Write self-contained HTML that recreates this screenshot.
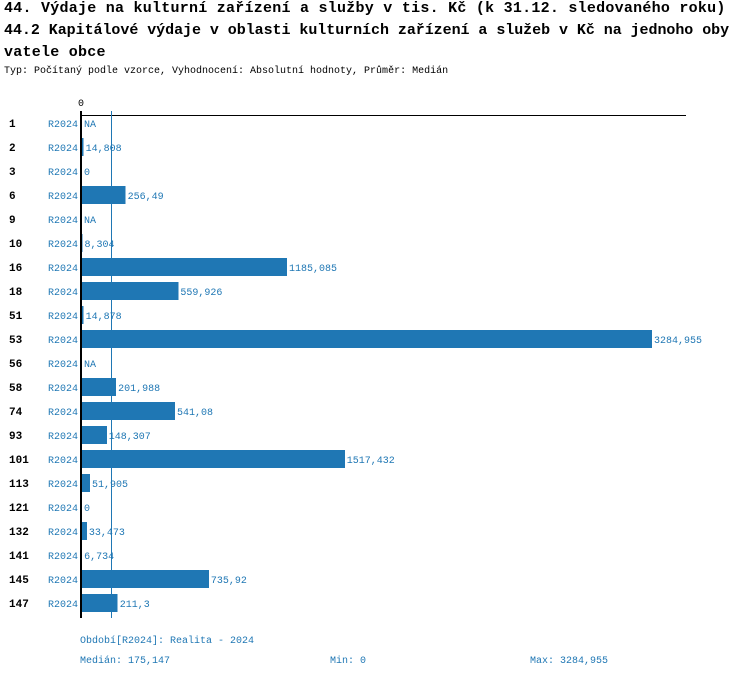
<!DOCTYPE html>
<html><head><meta charset="utf-8"><style>
body{margin:0;background:#fff;width:750px;height:678px;overflow:hidden;font-family:"Liberation Mono",monospace}
.t{position:absolute;left:4px;font-weight:bold;font-size:15px;letter-spacing:0.25px;color:#000;white-space:nowrap}
.s{position:absolute;left:4px;top:66px;font-size:10px;color:#000;white-space:nowrap}
svg{position:absolute;left:0;top:0}
</style></head><body>
<div class="t" style="top:0px">44. Výdaje na kulturní zařízení a služby v tis. Kč (k 31.12. sledovaného roku)</div>
<div class="t" style="top:22px;letter-spacing:-0.05px">44.2 Kapitálové výdaje v oblasti kulturních zařízení a služeb v Kč na jednoho oby</div>
<div class="t" style="top:44px">vatele obce</div>
<div class="s">Typ: Počítaný podle vzorce, Vyhodnocení: Absolutní hodnoty, Průměr: Medián</div>
<svg id="c" width="750" height="678" shape-rendering="crispEdges"></svg>
<script>
const categories=["1","2","3","6","9","10","16","18","51","53","56","58","74","93","101","113","121","132","141","145","147"];
const values=[null,14.808,0,256.49,null,8.304,1185.085,559.926,14.878,3284.955,null,201.988,541.08,148.307,1517.432,51.905,0,33.473,6.734,735.92,211.3];
const labels=["NA","14,808","0","256,49","NA","8,304","1185,085","559,926","14,878","3284,955","NA","201,988","541,08","148,307","1517,432","51,905","0","33,473","6,734","735,92","211,3"];
const median=175.147;
const svg=document.getElementById('c');
const NS='http://www.w3.org/2000/svg';
const x0=81,xMax=652,vMax=3284.955;
const x=v=>x0+(v/vMax)*(xMax-x0);
const y=i=>123+i*24;
function mk(t,a,txt){const e=document.createElementNS(NS,t);for(const k in a)e.setAttribute(k,a[k]);if(txt!==undefined)e.textContent=txt;svg.appendChild(e);return e;}
let e;
e=mk('line',{x1:x0,y1:115.5,x2:686,y2:115.5,stroke:'#000','stroke-width':1});


e=mk('text',{x:x0,y:106,'font-size':10,'text-anchor':'middle','font-family':'Liberation Mono, monospace'},'0');


e=mk('line',{x1:Math.round(x(median))+0.5,y1:111,x2:Math.round(x(median))+0.5,y2:618,stroke:'#1f77b4','stroke-width':1});


categories.forEach((c,i)=>{
  const yc=y(i);
  let t=mk('text',{x:9,y:yc+4,'font-size':11,'font-weight':'bold','font-family':'Liberation Mono, monospace'},c);
  
  
  t=mk('text',{x:78,y:yc+4,'font-size':10,fill:'#1f77b4','text-anchor':'end','font-family':'Liberation Mono, monospace'},'R2024');
  
  
  const v=values[i];
  let xe=x0+3;
  if(v!==null&&v>0){
    const r=mk('rect',{x:x0,y:yc-9,width:Math.max(1,x(v)-x0),height:18,fill:'#1f77b4'});
    
    
    xe=x(v)+2;
  }
  t=mk('text',{x:xe,y:yc+4,'font-size':10,fill:'#1f77b4','font-family':'Liberation Mono, monospace'},labels[i]);
  
  
});
e=mk('line',{x1:x0,y1:111,x2:x0,y2:618,stroke:'#000','stroke-width':2});


const foot=[[80,643,'Období[R2024]: Realita - 2024','legend-period'],[80,663,'Medián: 175,147','median-stat'],[330,663,'Min: 0','min-stat'],[530,663,'Max: 3284,955','max-stat']];
foot.forEach(f=>{const t=mk('text',{x:f[0],y:f[1],'font-size':10,fill:'#1f77b4','font-family':'Liberation Mono, monospace'},f[2]);

});
</script>
</body></html>
